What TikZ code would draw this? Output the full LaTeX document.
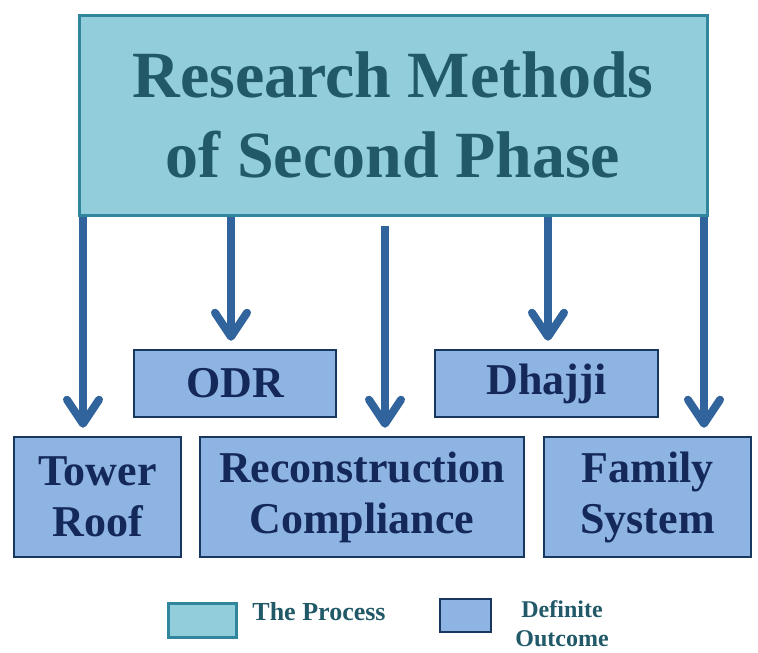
\documentclass[tikz,border=0pt]{standalone}
\usepackage{fontspec}
\setmainfont{Liberation Serif}
\usetikzlibrary{arrows.meta, positioning}

\definecolor{procfill}{HTML}{92CDDC}
\definecolor{procdraw}{HTML}{31859C}
\definecolor{proctext}{HTML}{215968}
\definecolor{outfill}{HTML}{8EB4E3}
\definecolor{outdraw}{HTML}{17375E}
\definecolor{outtext}{HTML}{14285A}
\definecolor{flowblue}{HTML}{31639C}

\begin{document}
\begin{tikzpicture}[x=1pt, y=-1pt,
    process/.style={draw=procdraw, fill=procfill, line width=3pt, text=proctext,
                    align=center, inner sep=0pt},
    outcome/.style={draw=outdraw, fill=outfill, line width=2.5pt, text=outtext,
                    align=center, inner sep=0pt,
                    font=\fontsize{44}{51}\selectfont\bfseries},
    flow/.style={draw=flowblue, line width=8pt,
                 -{Straight Barb[length=24pt, width=32pt, round]}}]
  \useasboundingbox (0,0) rectangle (758,653);

  % The process (top)
  \node[process, minimum width=628pt, minimum height=200pt,
        font=\fontsize{66}{80}\selectfont\bfseries] (phase) at (393,115)
        {Research Methods\\of Second Phase};

  % Upper outcomes
  \node[outcome, minimum width=202pt, minimum height=67pt] (odr) at (235,383.5) {ODR};
  \node[outcome, minimum width=223pt, minimum height=67pt] (dhajji) at (546.5,383.5) {Dhajji};

  % Lower outcomes
  \node[outcome, minimum width=167pt, minimum height=120pt] (tower) at (97.5,497) {Tower\\Roof};
  \node[outcome, minimum width=324pt, minimum height=120pt] (recon) at (362,497) {Reconstruction\\Compliance};
  \node[outcome, minimum width=207pt, minimum height=120pt] (family) at (647.5,497) {Family\\System};

  % Arrow feet
  \coordinate (f1) at ([xshift=-14.5pt]tower.north);
  \coordinate (f2) at ([xshift=-4pt]odr.north);
  \coordinate (f3) at ([xshift=23pt]recon.north);
  \coordinate (f4) at ([xshift=1.5pt]dhajji.north);
  \coordinate (f5) at ([xshift=56.5pt]family.north);

  % Arrows
  \draw[flow, shorten >=8pt] (f1 |- phase.south) -- (f1);
  \draw[flow, shorten >=8pt] (f2 |- phase.south) -- (f2);
  \draw[flow, shorten <=9pt, shorten >=8pt] (f3 |- phase.south) -- (f3);
  \draw[flow, shorten >=8pt] (f4 |- phase.south) -- (f4);
  \draw[flow, shorten >=8pt] (f5 |- phase.south) -- (f5);

  % Legend
  \node[process, minimum width=68pt, minimum height=34pt] (legproc) at (202,620) {};
  \node[font=\fontsize{26}{30}\selectfont\bfseries, text=proctext] (legproctext) at (319,612) {The Process};
  \node[outcome, minimum width=51pt, minimum height=33pt] (legout) at (465.5,615.5) {};
  \node[font=\fontsize{24}{29}\selectfont\bfseries, text=proctext, align=center] (legouttext) at (562,624) {Definite\\Outcome};
\end{tikzpicture}
\end{document}
